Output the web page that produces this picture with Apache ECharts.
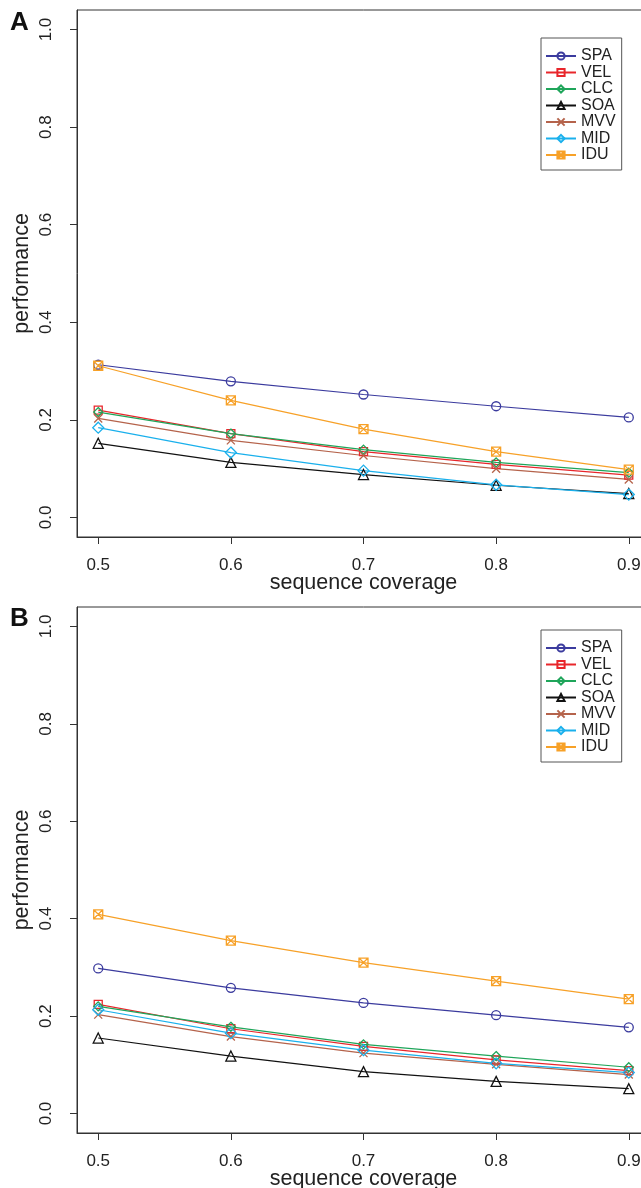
<!DOCTYPE html>
<html>
<head>
<meta charset="utf-8">
<script src="https://cdn.jsdelivr.net/npm/echarts@6/dist/echarts.min.js"></script>
<style>
html,body{margin:0;padding:0;background:#fff;overflow:hidden;}
#c{width:660px;height:1188px;}
</style>
</head>
<body>
<div id="c"></div>
<script>
const categories = [0.5, 0.6, 0.7, 0.8, 0.9];
const seriesNames = ['SPA', 'VEL', 'CLC', 'SOA', 'MVV', 'MID', 'IDU'];
const xTicks = [0.5, 0.6, 0.7, 0.8, 0.9];
const yTicks = [0.0, 0.2, 0.4, 0.6, 0.8, 1.0];

// Panel A values
const A_SPA = [0.313, 0.279, 0.252, 0.228, 0.205];
const A_VEL = [0.220, 0.172, 0.135, 0.109, 0.087];
const A_CLC = [0.216, 0.172, 0.139, 0.113, 0.092];
const A_SOA = [0.152, 0.113, 0.088, 0.066, 0.049];
const A_MVV = [0.203, 0.158, 0.127, 0.100, 0.078];
const A_MID = [0.184, 0.133, 0.096, 0.067, 0.047];
const A_IDU = [0.311, 0.240, 0.181, 0.135, 0.098];

// Panel B values
const B_SPA = [0.298, 0.258, 0.227, 0.202, 0.177];
const B_VEL = [0.224, 0.174, 0.138, 0.110, 0.088];
const B_CLC = [0.220, 0.178, 0.142, 0.118, 0.095];
const B_SOA = [0.155, 0.118, 0.086, 0.066, 0.051];
const B_MVV = [0.203, 0.158, 0.124, 0.101, 0.080];
const B_MID = [0.213, 0.165, 0.130, 0.103, 0.084];
const B_IDU = [0.409, 0.355, 0.310, 0.272, 0.235];

const panelA = [A_SPA, A_VEL, A_CLC, A_SOA, A_MVV, A_MID, A_IDU];
const panelB = [B_SPA, B_VEL, B_CLC, B_SOA, B_MVV, B_MID, B_IDU];

const colors = {
  SPA: '#3b3b9e', VEL: '#e8262b', CLC: '#1fa55a', SOA: '#111111',
  MVV: '#b5634b', MID: '#1ab0ec', IDU: '#f7a128'
};
const symbols = {
  SPA: 'circle',
  VEL: 'rect',
  CLC: 'diamond',
  SOA: 'triangle',
  MVV: 'path://M0,0L10,10M10,0L0,10',
  MID: 'diamond',
  IDU: 'path://M0,0H10V10H0ZM0,0L10,10M10,0L0,10'
};
const sizes = { SPA: 9, VEL: 8, CLC: 9, SOA: 10, MVV: 8, MID: 11, IDU: 9 };

const FONT = '"Liberation Sans", Arial, Helvetica, sans-serif';

function makeSeries(panel, idx) {
  return seriesNames.map((name, i) => ({
    name: name,
    type: 'line',
    xAxisIndex: idx,
    yAxisIndex: idx,
    data: categories.map((x, j) => [x, panel[i][j]]),
    symbol: symbols[name],
    symbolSize: sizes[name],
    symbolKeepAspect: true,
    showAllSymbol: true,
    lineStyle: { color: colors[name], width: 1.2 },
    itemStyle: { color: 'rgba(255,255,255,0)', borderColor: colors[name], borderWidth: 1.3 },
    emphasis: { disabled: true },
    animation: false
  }));
}

function xAxis(idx) {
  return {
    type: 'value', gridIndex: idx, min: 0.484, max: 0.916,
    position: 'bottom',
    name: 'sequence coverage', nameLocation: 'middle', nameGap: 35.5, nameMoveOverlap: false,
    nameTextStyle: { fontSize: 21.5, color: '#222', fontFamily: FONT },
    axisLine: { show: true, onZero: false, lineStyle: { color: '#333', width: 1 } },
    axisTick: { show: true, length: 7, inside: false, customValues: xTicks, lineStyle: { color: '#333', width: 1 } },
    axisLabel: { customValues: xTicks, margin: 20, fontSize: 17, color: '#222', fontFamily: FONT,
      formatter: v => v.toFixed(1) },
    splitLine: { show: false }
  };
}
function yAxis(idx) {
  return {
    type: 'value', gridIndex: idx, min: -0.04, max: 1.04,
    position: 'left',
    name: 'performance', nameLocation: 'middle', nameGap: 44, nameRotate: 90, nameMoveOverlap: false,
    nameTextStyle: { fontSize: 21.5, color: '#222', fontFamily: FONT },
    axisLine: { show: true, onZero: false, lineStyle: { color: '#333', width: 1 } },
    axisTick: { show: true, length: 7, inside: false, customValues: yTicks, lineStyle: { color: '#333', width: 1 } },
    axisLabel: { customValues: yTicks, rotate: 90, margin: 22, fontSize: 17, color: '#222', fontFamily: FONT,
      formatter: v => v.toFixed(1) },
    splitLine: { show: false }
  };
}
function legend(top) {
  return {
    orient: 'vertical', left: 541, top: top,
    data: seriesNames,
    backgroundColor: '#fff', borderColor: '#555', borderWidth: 1,
    padding: [10, 6, 7, 4], itemGap: 0.5, itemWidth: 30, itemHeight: 9,
    textStyle: { fontSize: 16, lineHeight: 15, color: '#222', fontFamily: FONT },
    selectedMode: false
  };
}

const chart = echarts.init(document.getElementById('c'), null, { renderer: 'canvas' });
chart.setOption({
  backgroundColor: '#fff',
  animation: false,
  grid: [
    { left: 77, top: 10, width: 573, height: 527, outerBoundsMode: 'none', show: true, borderColor: '#333', borderWidth: 1, backgroundColor: 'transparent' },
    { left: 77, top: 607, width: 573, height: 526, outerBoundsMode: 'none', show: true, borderColor: '#333', borderWidth: 1, backgroundColor: 'transparent' }
  ],
  xAxis: [xAxis(0), xAxis(1)],
  yAxis: [yAxis(0), yAxis(1)],
  legend: [legend(38), legend(630)],
  graphic: [
    { type: 'text', left: 10, top: 10, style: { text: 'A', fontSize: 26, fontWeight: 'bold', fill: '#111', fontFamily: FONT } },
    { type: 'text', left: 10, top: 606, style: { text: 'B', fontSize: 26, fontWeight: 'bold', fill: '#111', fontFamily: FONT } }
  ],
  series: makeSeries(panelA, 0).concat(makeSeries(panelB, 1))
});
</script>
</body>
</html>
